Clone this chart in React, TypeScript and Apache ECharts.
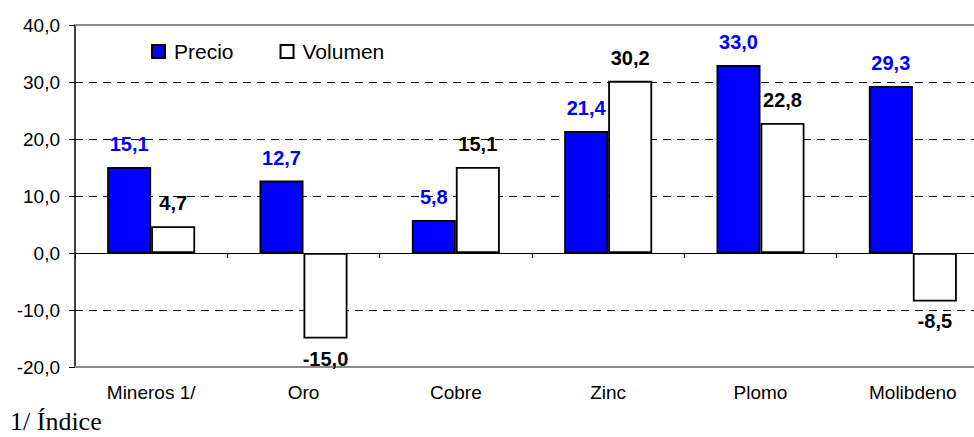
import React, { useEffect, useRef } from "react";
import * as echarts from "echarts";

const categories = ["Mineros 1/", "Oro", "Cobre", "Zinc", "Plomo", "Molibdeno"];
const precio = [15.1, 12.7, 5.8, 21.4, 33.0, 29.3];
const volumen = [4.7, -15.0, 15.1, 30.2, 22.8, -8.5];
const seriesNames = ["Precio", "Volumen"];
const footnote = "1/ Índice";

const fmt = (v: number) => v.toFixed(1).replace(".", ",");
const FONT = "'Liberation Sans', Arial, sans-serif";

export default function App() {
  const ref = useRef<HTMLDivElement>(null);
  useEffect(() => {
    if (!ref.current) return;
    const chart = echarts.init(ref.current, undefined, { renderer: "svg" });
    const mkData = (arr: number[], color: string) =>
      arr.map((v) => ({
        value: v,
        label: {
          position: v < 0 ? "bottom" : "top",
          distance: v < 0 ? 10 : 13,
          color,
        },
      }));
    chart.setOption({
      animation: false,
      backgroundColor: "#ffffff",
      textStyle: { fontFamily: FONT },
      grid: { left: 75, right: 11, top: 25, bottom: 70, containLabel: false },
      legend: {
        left: 151,
        top: 41,
        padding: 0,
        itemWidth: 13,
        itemHeight: 13,
        itemGap: 46,
        icon: "rect",
        textStyle: { fontSize: 21, color: "#000", fontFamily: FONT, padding: [0, 0, 0, 4] },
        data: seriesNames,
      },
      xAxis: [
        {
          type: "category",
          data: categories,
          axisLine: { onZero: true, lineStyle: { color: "#000", width: 1 } },
          axisTick: { show: true, inside: false, length: 5, lineStyle: { color: "#000" } },
          axisLabel: { show: false },
          splitLine: { show: false },
        },
        {
          type: "category",
          data: categories,
          position: "bottom",
          axisLine: { onZero: false, lineStyle: { color: "#8c8c8c", width: 2 } },
          axisTick: { show: false },
          axisLabel: { show: true, margin: 16, fontSize: 19, color: "#000", fontFamily: FONT },
          splitLine: { show: false },
        },
        {
          type: "category",
          data: categories,
          position: "top",
          axisLine: { onZero: false, lineStyle: { color: "#8c8c8c", width: 2 } },
          axisTick: { show: false },
          axisLabel: { show: false },
          splitLine: { show: false },
        },
      ],
      yAxis: {
        type: "value",
        min: -20,
        max: 40,
        interval: 10,
        axisLine: { show: true, lineStyle: { color: "#000", width: 1.5 } },
        axisTick: { show: true, inside: false, length: 6, lineStyle: { color: "#000" } },
        axisLabel: {
          margin: 15,
          fontSize: 19,
          color: "#000",
          fontFamily: FONT,
          formatter: (v: number) => fmt(v),
        },
        splitLine: { show: true, lineStyle: { color: "#000", type: [8, 6], width: 1 } },
      },
      series: [
        {
          name: seriesNames[0],
          type: "bar",
          xAxisIndex: 0,
          barWidth: 44,
          barGap: "0%",
          itemStyle: { color: "#0000ff", borderColor: "#000", borderWidth: 1.8 },
          label: {
            show: true,
            fontSize: 20,
            fontWeight: "bold",
            fontFamily: FONT,
            formatter: (p: any) => fmt(p.value),
          },
          data: mkData(precio, "#0000ff"),
        },
        {
          name: seriesNames[1],
          type: "bar",
          xAxisIndex: 0,
          barWidth: 44,
          barGap: "0%",
          itemStyle: { color: "#ffffff", borderColor: "#000", borderWidth: 1.8 },
          label: {
            show: true,
            fontSize: 20,
            fontWeight: "bold",
            fontFamily: FONT,
            formatter: (p: any) => fmt(p.value),
          },
          data: mkData(volumen, "#000000"),
        },
      ],
      graphic: [
        {
          type: "text",
          left: 10,
          top: 408,
          style: {
            text: footnote,
            font: "26px 'Liberation Serif', 'Times New Roman', serif",
            fill: "#000",
          },
        },
      ],
    });
    return () => chart.dispose();
  }, []);
  return (
    <div
      style={{
        position: "fixed",
        left: 0,
        top: 0,
        width: 974,
        height: 437,
        overflow: "hidden",
        background: "#fff",
      }}
    >
      <div ref={ref} style={{ width: 1000, height: 437 }} />
    </div>
  );
}
